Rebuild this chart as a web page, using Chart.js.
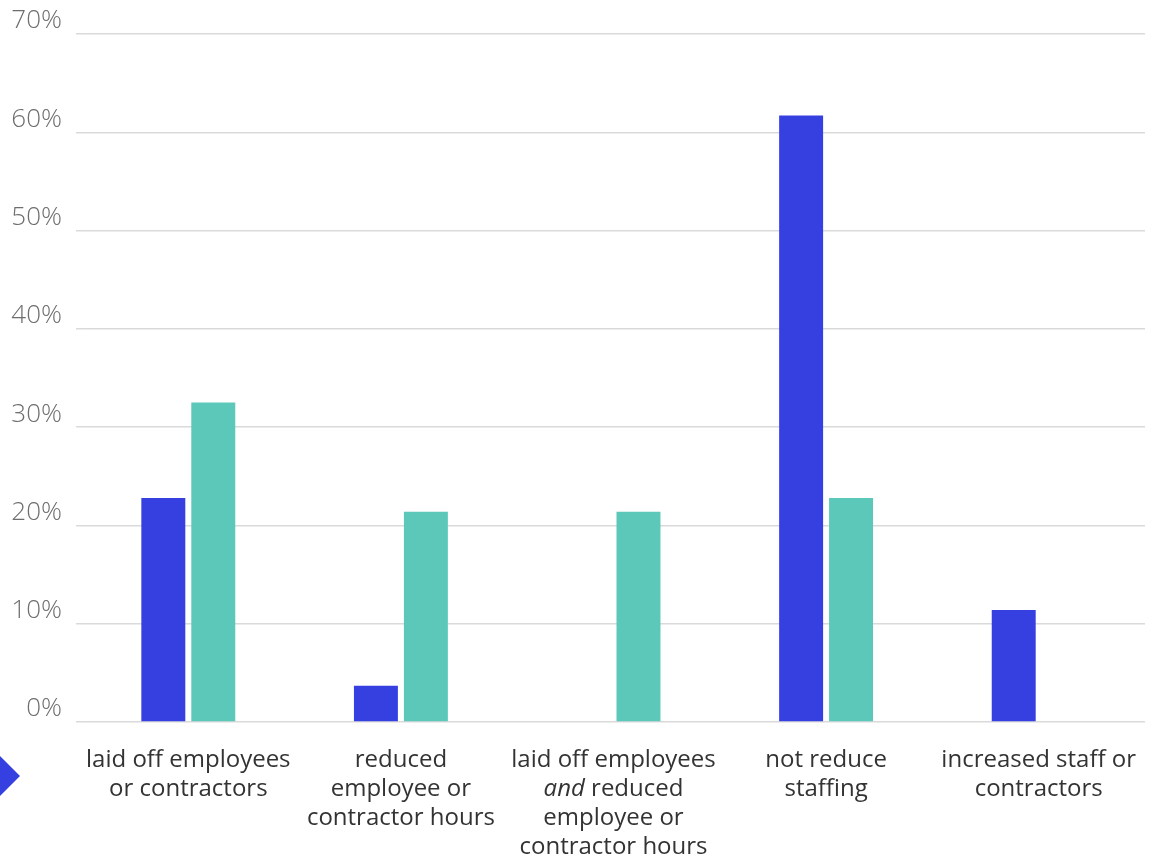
<!DOCTYPE html>
<html>
<head>
<meta charset="utf-8">
<script src="https://cdn.jsdelivr.net/npm/chart.js@4"></script>
<style>
  html, body { margin: 0; padding: 0; background: #fff; }
  #wrap { position: relative; width: 1154px; height: 861px; }
  #arrow {
    position: absolute; left: 0; top: 756px; width: 0; height: 0;
    border-top: 20.5px solid transparent;
    border-bottom: 20.5px solid transparent;
    border-left: 20px solid #3640e0;
  }
</style>
</head>
<body>
<div id="wrap">
  <canvas id="myChart" width="1154" height="861"></canvas>
  <div id="arrow"></div>
</div>
<script>
const categories = [
  ["laid off employees", "or contractors"],
  ["reduced", "employee or", "contractor hours"],
  ["laid off employees", "", "employee or", "contractor hours"],
  ["not reduce", "staffing"],
  ["increased staff or", "contractors"]
];
// second line of the third label, "and" is set in italics
const mixedLine = { index: 2, line: 1, italic: "and", rest: " reduced" };

const blueValues = [22.8, 3.7, 0, 61.7, 11.4];
const tealValues = [32.5, 21.4, 21.4, 22.8, 0];
const yTicks = [0, 10, 20, 30, 40, 50, 60, 70];

const labelLineHeight = 29;
const labelFont = { family: "'Open Sans'", size: 24, lineHeight: labelLineHeight + "px" };
const xPadding = 23.5;

const mixedLabelPlugin = {
  id: "mixedLabel",
  afterDraw(chart) {
    const scale = chart.scales.x;
    const c = chart.ctx;
    const x = scale.getPixelForValue(mixedLine.index);
    const y = scale.top + xPadding + (mixedLine.line + 0.5) * labelLineHeight;
    c.save();
    c.fillStyle = "#333333";
    c.textBaseline = "middle";
    c.textAlign = "left";
    const italicFont = "italic 400 " + labelFont.size + "px " + labelFont.family;
    const normalFont = "400 " + labelFont.size + "px " + labelFont.family;
    c.font = italicFont;
    const w1 = c.measureText(mixedLine.italic).width;
    c.font = normalFont;
    const w2 = c.measureText(mixedLine.rest).width;
    const start = x - (w1 + w2) / 2;
    c.font = italicFont;
    c.fillText(mixedLine.italic, start, y);
    c.font = normalFont;
    c.fillText(mixedLine.rest, start + w1, y);
    c.restore();
  }
};

const ctx = document.getElementById("myChart").getContext("2d");

const myChart = new Chart(ctx, {
  type: "bar",
  data: {
    labels: categories,
    datasets: [
      {
        label: "Series 1",
        data: blueValues,
        backgroundColor: "#3640e0",
        categoryPercentage: 0.47,
        barPercentage: 0.88,
      },
      {
        label: "Series 2",
        data: tealValues,
        backgroundColor: "#5cc8b9",
        categoryPercentage: 0.47,
        barPercentage: 0.88,
      },
    ],
  },
  options: {
    responsive: false,
    animation: false,
    layout: {
      padding: { left: 10, right: 9, top: 34, bottom: 0 },
    },
    plugins: {
      legend: { display: false },
      tooltip: { enabled: false },
    },
    scales: {
      x: {
        afterFit: (axis) => {
          axis.height = 139;
          axis.paddingLeft = 0;
          axis.paddingRight = 0;
        },
        grid: { display: false, drawTicks: false },
        border: { display: false },
        ticks: {
          color: "#333333",
          font: labelFont,
          padding: xPadding,
          maxRotation: 0,
          autoSkip: false,
        },
      },
      y: {
        min: 0,
        max: 70,
        afterBuildTicks: (axis) => {
          axis.ticks = yTicks.map((v) => ({ value: v }));
        },
        afterFit: (axis) => {
          axis.width = 72;
        },
        grid: {
          color: "#dadada",
          lineWidth: 1.5,
          drawTicks: true,
          tickLength: 6,
        },
        border: { display: false },
        ticks: {
          color: "#6e6e6e",
          font: { family: "'Open Sans'", size: 26, weight: 300 },
          padding: 14,
          labelOffset: -13,
          callback: (v) => v + "%",
        },
      },
    },
  },
  plugins: [mixedLabelPlugin],
});
</script>
</body>
</html>
